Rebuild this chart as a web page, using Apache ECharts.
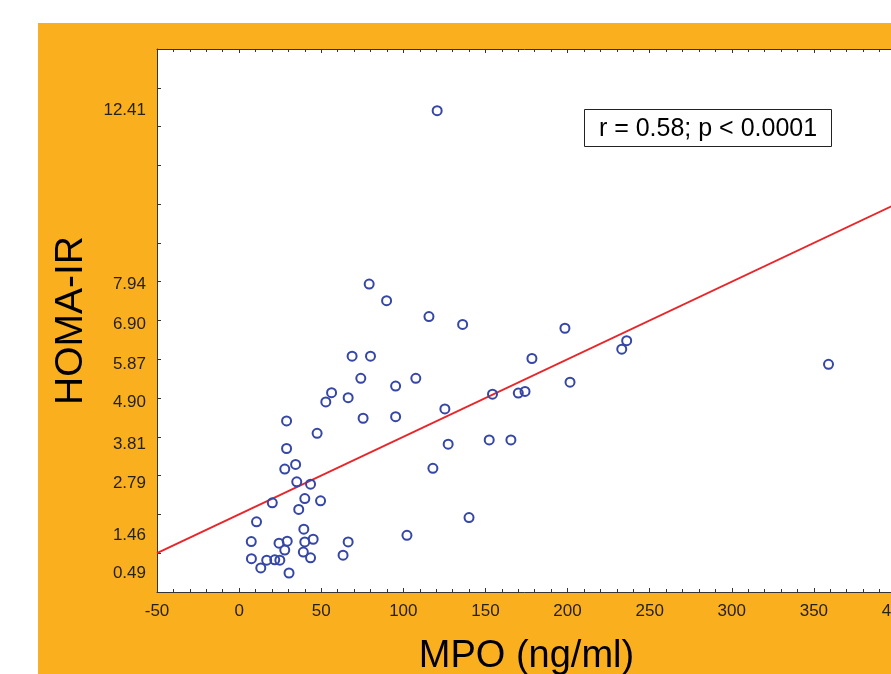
<!DOCTYPE html>
<html>
<head>
<meta charset="utf-8">
<script src="https://cdn.jsdelivr.net/npm/echarts@6/dist/echarts.min.js"></script>
<style>
html,body{margin:0;padding:0;background:#fff;width:891px;height:674px;overflow:hidden;}
#chart{position:absolute;left:38px;top:23px;width:853px;height:651px;}
</style>
</head>
<body>
<div id="chart"></div>
<script>
// MPO (ng/ml) values
var mpo = [120.6, 79.2, 89.8, 115.6, 136.1, 198.4, 236.0, 233.0, 68.8, 80.0,
  178.3, 358.9, 74.1, 107.6, 201.5, 95.3, 56.3, 154.3, 170.0, 174.1,
  66.4, 52.8, 125.3, 28.9, 75.5, 95.3, 47.5, 152.3, 165.5, 127.3,
  28.9, 27.8, 34.4, 118.0, 35.1, 43.5, 20.2, 40.0, 49.6, 36.3,
  140.0, 10.6, 39.4, 102.2, 7.4, 24.3, 29.3, 45.1, 40.0, 66.4,
  27.8, 39.1, 43.5, 63.3, 7.5, 16.8, 21.7, 24.8, 13.2, 30.4];
// HOMA-IR values
var homa = [12.41, 7.94, 7.51, 7.10, 6.90, 6.80, 6.48, 6.26, 6.08, 6.08,
  6.02, 5.87, 5.51, 5.51, 5.41, 5.31, 5.14, 5.10, 5.13, 5.17,
  5.01, 4.90, 4.72, 4.41, 4.48, 4.52, 4.09, 3.92, 3.92, 3.81,
  3.70, 3.17, 3.29, 3.19, 2.84, 2.78, 2.30, 2.41, 2.35, 2.13,
  1.92, 1.81, 1.62, 1.46, 1.30, 1.26, 1.31, 1.36, 1.29, 1.29,
  1.08, 1.03, 0.88, 0.95, 0.86, 0.82, 0.83, 0.82, 0.62, 0.49];
// regression line end points
var fitX = [-50, 400];
var fitY = [1.0, 10.0];
// y tick labels
var yLabels = [0.49, 1.46, 2.79, 3.81, 4.90, 5.87, 6.90, 7.94, 12.41];
var annotation = 'r = 0.58; p < 0.0001';

var points = mpo.map(function(v, i){ return [v, homa[i]]; });
var fitLine = fitX.map(function(v, i){ return [v, fitY[i]]; });

var FONT = "'Liberation Sans', Arial, sans-serif";
var axisCol = '#333';

var chart = echarts.init(document.getElementById('chart'), null, {renderer:'canvas'});
chart.setOption({
  backgroundColor: '#FAB01E',
  animation: false,
  grid: {left:119, top:26, right:-5, bottom:82, show:true, backgroundColor:'#fff', borderWidth:0,
    containLabel:false, outerBoundsMode:'none'},
  xAxis: [{
    type:'value', min:-50, max:400, interval:50, position:'bottom',
    name:'MPO (ng/ml)', nameLocation:'middle', nameGap:46,
    nameTextStyle:{fontFamily:FONT, fontSize:38, color:'#000'},
    axisLine:{show:true, onZero:false, lineStyle:{color:axisCol, width:1}},
    axisTick:{show:true, inside:true, length:4, lineStyle:{color:axisCol}},
    minorTick:{show:true, splitNumber:5, length:3, lineStyle:{color:axisCol}},
    axisLabel:{fontFamily:FONT, fontSize:17, color:'#262218', margin:11, hideOverlap:false,
      formatter:function(v){ return String(v); }},
    splitLine:{show:false}
  },{
    type:'value', min:-50, max:400, interval:50, position:'top',
    axisLine:{show:true, onZero:false, lineStyle:{color:axisCol, width:1}},
    axisTick:{show:true, inside:true, length:4, lineStyle:{color:axisCol}},
    minorTick:{show:true, splitNumber:5, length:3, lineStyle:{color:axisCol}},
    axisLabel:{show:false}, splitLine:{show:false}
  }],
  yAxis: [{
    type:'value', min:0, max:14, interval:1, position:'left',
    name:'HOMA-IR', nameLocation:'middle', nameGap:66,
    nameTextStyle:{fontFamily:FONT, fontSize:39, color:'#000'},
    axisLine:{show:true, onZero:false, lineStyle:{color:axisCol, width:1}},
    axisTick:{show:true, inside:true, length:4, lineStyle:{color:axisCol}},
    axisLabel:{fontFamily:FONT, fontSize:17, color:'#262218', margin:11,
      customValues: yLabels,
      formatter:function(v){ return v.toFixed(2); }},
    splitLine:{show:false}
  },{
    type:'value', min:0, max:14, interval:1, position:'right',
    axisLine:{show:true, onZero:false, lineStyle:{color:axisCol, width:1}},
    axisTick:{show:true, inside:true, length:4, lineStyle:{color:axisCol}},
    axisLabel:{show:false}, splitLine:{show:false}
  }],
  graphic: [{
    type:'group', left:546, top:86, z:100,
    children:[{
      type:'rect', shape:{x:0, y:0, width:247, height:37},
      style:{fill:'#fff', stroke:'#222', lineWidth:1}
    },{
      type:'text', x:123.5, y:19.5,
      style:{text:annotation, font:"25px 'Liberation Sans', Arial, sans-serif",
        fill:'#000', align:'center', verticalAlign:'middle'}
    }]
  }],
  series: [{
    type:'line', data:fitLine, showSymbol:false, symbol:'none',
    lineStyle:{color:'#E8262A', width:2}, z:2, silent:true
  },{
    type:'scatter', data:points, symbol:'circle', symbolSize:9,
    itemStyle:{color:'rgba(255,255,255,0)', borderColor:'#3646A6', borderWidth:2, opacity:1},
    z:3
  }]
});
</script>
</body>
</html>
